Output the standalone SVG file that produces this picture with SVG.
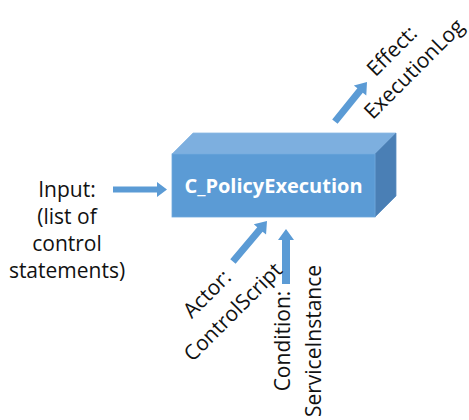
<svg xmlns="http://www.w3.org/2000/svg" width="469" height="420" viewBox="0 0 469 420">
  <style>
    .lbl { font-family: "Open Sans", "Liberation Sans", sans-serif; font-size: 21px; fill: #111111; text-anchor: middle; }
    .title { font-family: "Open Sans", "Liberation Sans", sans-serif; font-size: 20px; font-weight: bold; fill: #ffffff; text-anchor: middle; }
    .arrow { fill: #5B9BD5; }
    .front { fill: #5B9BD5; stroke: #6FA8DC; stroke-width: 0.8; }
    .top { fill: #7DAFDF; stroke: #8BB9E3; stroke-width: 0.8; }
    .side { fill: #4A7FB5; stroke: #5B8EC0; stroke-width: 0.8; }
  </style>

  <!-- central 3D block -->
  <g id="policy-execution">
    <polygon class="top" points="172,154 193,133 396,133 375,154"/>
    <polygon class="side" points="375,154 396,133 396,196 375,217"/>
    <rect class="front" x="172" y="154" width="203" height="63"/>
    <text class="title" x="273.5" y="193">C_PolicyExecution</text>
  </g>

  <!-- connectors: block arrows, tip at local origin -->
  <g id="connectors">
    <polygon class="arrow" transform="translate(167,189.5)" points="-54,-3 -10,-3 -10,-7.5 0,0 -10,7.5 -10,3 -54,3"/>
    <polygon class="arrow" transform="translate(267,221) rotate(-50)" points="-53,-3.5 -11,-3.5 -11,-8 0,0 -11,8 -11,3.5 -53,3.5"/>
    <polygon class="arrow" transform="translate(286,229) rotate(-90)" points="-55,-4 -11,-4 -11,-8 0,0 -11,8 -11,4 -55,4"/>
    <polygon class="arrow" transform="translate(367,82) rotate(-51)" points="-51,-3.5 -11,-3.5 -11,-8 0,0 -11,8 -11,3.5 -51,3.5"/>
  </g>

  <!-- input label -->
  <g id="input">
    <text class="lbl" x="67" y="197">Input:</text>
    <text class="lbl" x="67" y="224">(list of</text>
    <text class="lbl" x="67" y="251">control</text>
    <text class="lbl" x="67" y="278">statements)</text>
  </g>

  <!-- actor label -->
  <g id="actor">
    <text class="lbl" transform="translate(212,299) rotate(-45)">Actor:</text>
    <text class="lbl" transform="translate(238,317) rotate(-45)">ControlScript</text>
  </g>

  <!-- condition label -->
  <g id="condition">
    <text class="lbl" transform="translate(290,341) rotate(-90)">Condition:</text>
    <text class="lbl" transform="translate(321,341) rotate(-90)">ServiceInstance</text>
  </g>

  <!-- effect label -->
  <g id="effect">
    <text class="lbl" transform="translate(397,56) rotate(-45)">Effect:</text>
    <text class="lbl" transform="translate(419,74) rotate(-45)">ExecutionLog</text>
  </g>
</svg>
